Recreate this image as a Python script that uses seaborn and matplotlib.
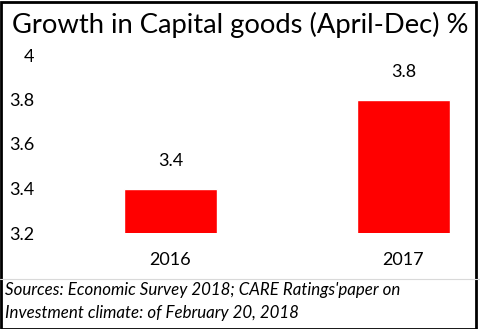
import matplotlib
matplotlib.use("Agg")
import matplotlib.pyplot as plt
import seaborn as sns
import pandas as pd

years = ["2016", "2017"]
growth = [3.4, 3.8]
y_ticks = [3.2, 3.4, 3.6, 3.8, 4.0]
y_tick_labels = ["3.2", "3.4", "3.6", "3.8", "4"]
title = "Growth in Capital goods (April-Dec) %"
source_lines = ["Sources: Economic Survey 2018; CARE Ratings'paper on",
                "Investment climate: of February 20, 2018"]

sns.set_theme(style="white")
plt.rcParams["font.family"] = ["Lato", "DejaVu Sans"]

W, H = 481, 329
fig = plt.figure(figsize=(W / 100, H / 100), dpi=100)
fig.patch.set_facecolor("white")

# plot area in pixel coordinates (left, top, right, bottom)
px_l, px_t, px_r, px_b = 40, 55, 470, 233
ax = fig.add_axes([px_l / W, 1 - px_b / H, (px_r - px_l) / W, (px_b - px_t) / H])

df = pd.DataFrame({"year": years, "growth": growth})
sns.barplot(data=df, x="year", y="growth", color="#ff0000", saturation=1,
            width=0.4, ax=ax)

ax.set_ylim(3.2, 4.0)
ax.set_xlim(-0.56, 1.2855)
ax.set_yticks(y_ticks)
ax.set_yticklabels(y_tick_labels, fontsize=13, color="black")
ax.tick_params(axis="x", labelsize=13, colors="black", length=0, pad=14)
ax.tick_params(axis="y", length=0, pad=4)
ax.set_xlabel("")
ax.set_ylabel("")
for s in ax.spines.values():
    s.set_visible(False)
ax.patch.set_alpha(0)

for c in ax.containers:
    ax.bar_label(c, labels=[f"{v:.1f}" for v in growth], padding=14,
                 fontsize=13, color="black")

fig.text(12 / W, 1 - 33 / H, title, fontsize=19.7, color="black",
         ha="left", va="baseline")

fig.text(5 / W, 1 - 290 / H, source_lines[0], fontsize=12.2, style="italic",
         color="black", ha="left", va="center")
fig.text(5 / W, 1 - 313 / H, source_lines[1], fontsize=12.2, style="italic",
         color="black", ha="left", va="center")

# faint cell separator above the source note
fig.add_artist(plt.Line2D([0, 1], [1 - 279 / H, 1 - 279 / H],
                          transform=fig.transFigure, color="#d9d9d9", lw=0.8))

# outer frame
fig.add_artist(plt.Rectangle((0.5 / W, 0.5 / H), 1 - 5 / W, 1 - 2 / H,
                             transform=fig.transFigure, fill=False,
                             edgecolor="black", lw=2))

fig.savefig("out.png", dpi=100)
